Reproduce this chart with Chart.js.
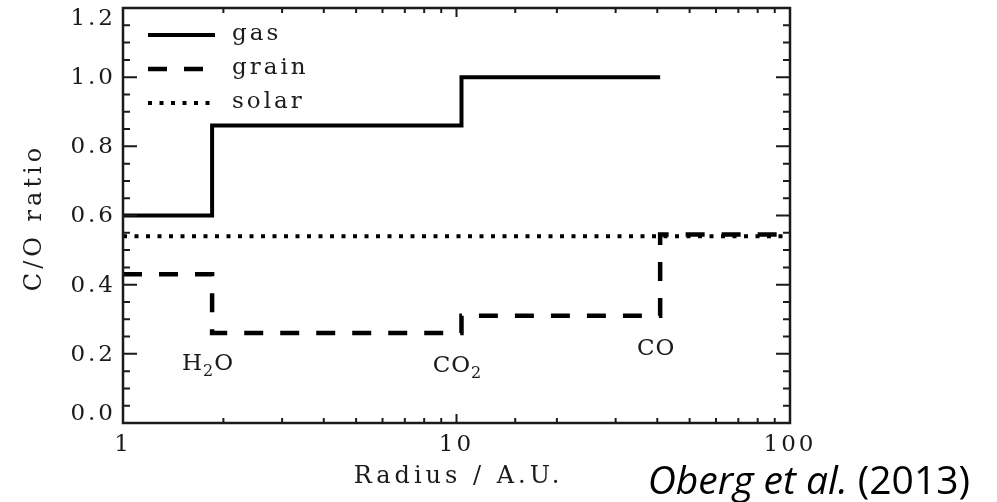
<!DOCTYPE html>
<html>
<head>
<meta charset="utf-8">
<script src="https://cdn.jsdelivr.net/npm/chart.js@4/dist/chart.umd.min.js"></script>
<style>
  html, body { margin: 0; padding: 0; background: #fff; }
  canvas { display: block; }
</style>
</head>
<body>
<canvas id="c" width="997" height="502"></canvas>
<script>
// Axis ticks
const radiusTicks = [1, 10, 100];
const ratioTicks = [0.0, 0.2, 0.4, 0.6, 0.8, 1.0, 1.2];

// Snowline radii (AU) and their labels: H2O, CO2, CO
const snowlineRadius = [1.85, 10.35, 40.8];
const snowlineNames = [['H', '2', 'O'], ['CO', '2', ''], ['CO', '', '']];
const snowlineLabelY = [0.175, 0.17, 0.22];

// C/O ratio of the gas, the grains and the solar value
const gasRadius = [1, 1.85, 10.35, 40.8];
const gasCO = [0.60, 0.86, 1.00, 1.00];
const grainRadius = [1, 1.85, 10.35, 40.8, 100];
const grainCO = [0.43, 0.26, 0.31, 0.545, 0.545];
const solarRadius = [1, 100];
const solarCO = [0.54, 0.54];

const SERIF = '"DejaVu Serif", "Liberation Serif", serif';
const INK = '#1b1b1b';

function points(xs, ys) {
  return xs.map((x, i) => ({ x, y: ys[i] }));
}

// Wide letter spacing for the serif tick labels
const spacing = {
  id: 'spacing',
  beforeDraw(chart) { chart.ctx.letterSpacing = '3px'; },
  afterDraw(chart) { chart.ctx.letterSpacing = '0px'; }
};

// Boxed frame with inward tick marks on all four sides, and the y labels
// (the end labels are kept inside the frame height)
const frameTicks = {
  id: 'frameTicks',
  afterDatasetsDraw(chart) {
    const { ctx, chartArea: a, scales: { x, y } } = chart;
    ctx.save();
    ctx.strokeStyle = INK;
    ctx.lineWidth = 2;
    ctx.beginPath();
    x.ticks.forEach(t => {
      const px = x.getPixelForValue(t.value);
      const len = radiusTicks.includes(t.value) ? 9 : 5;
      ctx.moveTo(px, a.bottom); ctx.lineTo(px, a.bottom - len);
      ctx.moveTo(px, a.top); ctx.lineTo(px, a.top + len);
    });
    for (let k = 0; k <= 24; k++) {
      const py = y.getPixelForValue(k * 0.05);
      const len = k % 4 === 0 ? 14 : 7;
      ctx.moveTo(a.left, py); ctx.lineTo(a.left + len, py);
      ctx.moveTo(a.right, py); ctx.lineTo(a.right - len, py);
    }
    ctx.stroke();
    ctx.lineWidth = 2.5;
    ctx.strokeRect(a.left, a.top, a.width, a.height);

    ctx.fillStyle = INK;
    ctx.font = '23px ' + SERIF;
    ctx.letterSpacing = '3px';
    ctx.textAlign = 'right';
    ctx.textBaseline = 'middle';
    y.ticks.forEach(t => {
      let py = y.getPixelForValue(t.value) + 1;
      py = Math.min(Math.max(py, a.top + 11), a.bottom - 9);
      ctx.fillText(Number(t.value).toFixed(1), a.left - 7, py);
    });
    ctx.restore();
  }
};

// Legend in the upper-left corner of the plot
const insideLegend = {
  id: 'insideLegend',
  afterDatasetsDraw(chart) {
    const { ctx, chartArea: a } = chart;
    ctx.save();
    ctx.font = '23px ' + SERIF;
    ctx.fillStyle = INK;
    ctx.textBaseline = 'middle';
    ctx.letterSpacing = '3px';
    chart.data.datasets.forEach((ds, i) => {
      const yy = a.top + 27 + i * 34;
      ctx.beginPath();
      ctx.setLineDash(ds.borderDash || []);
      ctx.lineWidth = ds.borderWidth;
      ctx.strokeStyle = ds.borderColor;
      ctx.moveTo(a.left + 25, yy);
      ctx.lineTo(a.left + 92, yy);
      ctx.stroke();
      ctx.fillText(ds.label, a.left + 109, yy - 1);
    });
    ctx.restore();
  }
};

// Snowline labels with subscripts, plus axis titles and the citation
const annotations = {
  id: 'annotations',
  afterDraw(chart) {
    const { ctx, chartArea: a, scales: { x, y } } = chart;
    ctx.save();
    ctx.fillStyle = INK;
    ctx.textBaseline = 'alphabetic';
    ctx.letterSpacing = '1px';
    const big = '23px ' + SERIF, small = '16px ' + SERIF;
    snowlineNames.forEach((parts, i) => {
      ctx.font = big; const w0 = ctx.measureText(parts[0]).width;
      const w2 = ctx.measureText(parts[2]).width;
      ctx.font = small; const w1 = ctx.measureText(parts[1]).width;
      const total = w0 + w1 + w2;
      const cx = x.getPixelForValue(snowlineRadius[i]) - 4;
      const base = y.getPixelForValue(snowlineLabelY[i]) + 8;
      let px = cx - total / 2;
      ctx.textAlign = 'left';
      ctx.font = big; ctx.fillText(parts[0], px, base); px += w0;
      ctx.font = small; ctx.fillText(parts[1], px, base + 6); px += w1;
      ctx.font = big; ctx.fillText(parts[2], px, base);
    });

    // axis titles
    ctx.letterSpacing = '4px';
    ctx.font = '24px ' + SERIF;
    ctx.textAlign = 'center';
    ctx.textBaseline = 'middle';
    ctx.fillText('Radius / A.U.', (a.left + a.right) / 2 + 2, 477);
    ctx.save();
    ctx.translate(35, (a.top + a.bottom) / 2 + 2);
    ctx.rotate(-Math.PI / 2);
    ctx.fillText('C/O ratio', 0, 0);
    ctx.restore();

    // citation
    ctx.letterSpacing = '0px';
    ctx.fillStyle = '#000';
    ctx.textBaseline = 'alphabetic';
    ctx.textAlign = 'left';
    const italic = 'italic 39px "Open Sans", sans-serif';
    const upright = '39px "Open Sans", sans-serif';
    ctx.font = upright; const wYear = ctx.measureText(' (2013)').width;
    ctx.font = italic; const wName = ctx.measureText('Oberg et al.').width;
    const right = 970, baseline = 494;
    ctx.fillText('Oberg et al.', right - wYear - wName, baseline);
    ctx.font = upright;
    ctx.fillText(' (2013)', right - wYear, baseline);
    ctx.restore();
  }
};

new Chart(document.getElementById('c'), {
  type: 'line',
  data: {
    datasets: [
      {
        label: 'gas',
        data: points(gasRadius, gasCO),
        stepped: 'before',
        borderColor: '#000',
        borderWidth: 4,
        borderDash: []
      },
      {
        label: 'grain',
        data: points(grainRadius, grainCO),
        stepped: 'before',
        borderColor: '#000',
        borderWidth: 4.5,
        borderDash: [19, 17]
      },
      {
        label: 'solar',
        data: points(solarRadius, solarCO),
        borderColor: '#000',
        borderWidth: 4,
        borderDash: [4, 7.5]
      }
    ]
  },
  options: {
    responsive: false,
    animation: false,
    events: [],
    elements: {
      point: { radius: 0 },
      line: { borderCapStyle: 'butt', borderJoinStyle: 'miter', tension: 0 }
    },
    layout: { padding: { top: 8, right: 207, left: 0, bottom: 0 } },
    plugins: {
      legend: { display: false },
      tooltip: { enabled: false }
    },
    scales: {
      x: {
        type: 'logarithmic',
        min: 1,
        max: 100,
        grid: { display: false, drawTicks: false },
        border: { display: false },
        ticks: {
          autoSkip: false,
          maxRotation: 0,
          padding: 8,
          color: INK,
          font: { family: SERIF, size: 23 },
          callback: v => radiusTicks.includes(v) ? String(v) : ''
        },
        afterFit: s => {
          s.height = 79;
          s.paddingLeft = 0; s.paddingRight = 0;
        }
      },
      y: {
        type: 'linear',
        min: 0,
        max: 1.2,
        grid: { display: false, drawTicks: false },
        border: { display: false },
        afterBuildTicks: s => { s.ticks = ratioTicks.map(v => ({ value: v })); },
        ticks: { display: false },
        afterFit: s => {
          s.width = 123;
          s.paddingTop = 0; s.paddingBottom = 0;
        }
      }
    }
  },
  plugins: [spacing, frameTicks, insideLegend, annotations]
});
</script>
</body>
</html>
